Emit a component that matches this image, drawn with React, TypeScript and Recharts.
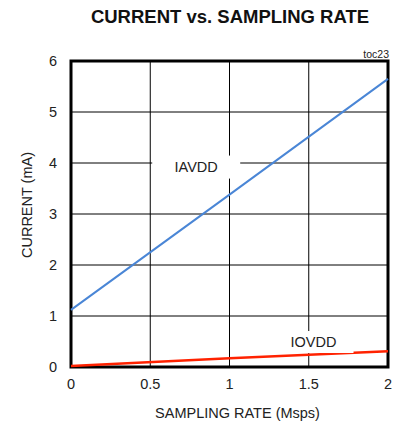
import {
  LineChart,
  Line,
  XAxis,
  YAxis,
  CartesianGrid,
  ReferenceArea,
  ReferenceDot,
  Label,
} from "recharts";

const rates = [0, 1, 2];
const iavdd = [1.12, 3.38, 5.65];
const iovdd = [0.02, 0.17, 0.31];
const xTicks = [0, 0.5, 1, 1.5, 2];
const yTicks = [0, 1, 2, 3, 4, 5, 6];

const data = rates.map((r, i) => ({ rate: r, iavdd: iavdd[i], iovdd: iovdd[i] }));

const FONT = "'Liberation Sans', Arial, sans-serif";

// white box with a series name, drawn at a data point
const makeTag = (text: string, w: number, h: number) => (props: any) => {
  const { cx, cy } = props;
  return (
    <g>
      <rect x={cx - w / 2} y={cy - h / 2} width={w} height={h} fill="#fff" />
      <text
        x={cx}
        y={cy}
        textAnchor="middle"
        dominantBaseline="central"
        fontFamily={FONT}
        fontSize={14.5}
        fill="#222"
      >
        {text}
      </text>
    </g>
  );
};

const YLabel = (props: any) => {
  const vb = props.viewBox || {};
  const x = vb.x + 27;
  const y = vb.y + vb.height / 2 - 9;
  return (
    <text
      x={x}
      y={y}
      transform={`rotate(-90 ${x} ${y})`}
      textAnchor="middle"
      dominantBaseline="central"
      fontFamily={FONT}
      fontSize={14.5}
      fill="#222"
    >
      CURRENT (mA)
    </text>
  );
};

export default function App() {
  return (
    <div style={{ position: "absolute", left: 0, top: 0, width: 396, height: 424, background: "#fff" }}>
      <div
        style={{
          position: "absolute",
          left: 0,
          width: 460,
          top: 6,
          textAlign: "center",
          fontFamily: FONT,
          fontWeight: "bold",
          fontSize: 18.5,
          color: "#111",
        }}
      >
        CURRENT vs. SAMPLING RATE
      </div>
      <div
        style={{
          position: "absolute",
          right: 7,
          top: 48,
          fontFamily: FONT,
          fontSize: 10.5,
          color: "#222",
        }}
      >
        toc23
      </div>
      <LineChart width={396} height={424} data={data} margin={{ top: 61, right: 8, bottom: 0, left: 0 }}>
        <CartesianGrid stroke="#000" strokeWidth={1} />
        <XAxis
          dataKey="rate"
          type="number"
          domain={[0, 2]}
          ticks={xTicks}
          height={57}
          axisLine={false}
          tickLine={false}
          tickSize={0}
          tickMargin={12}
          tick={{ fontSize: 14.5, fill: "#222", fontFamily: FONT }}
        >
          <Label
            value="SAMPLING RATE (Msps)"
            position="insideBottom"
            offset={6}
            dx={8}
            style={{ fontSize: 14.5, fill: "#222", fontFamily: FONT }}
          />
        </XAxis>
        <YAxis
          type="number"
          domain={[0, 6]}
          ticks={yTicks}
          width={71}
          axisLine={false}
          tickLine={false}
          tickSize={0}
          tickMargin={14}
          tick={{ fontSize: 14.5, fill: "#222", fontFamily: FONT }}
        >
          <Label content={YLabel} />
        </YAxis>
        <ReferenceDot x={0.79} y={3.92} r={0} shape={makeTag("IAVDD", 88, 23)} />
        <ReferenceDot x={1.53} y={0.49} r={0} shape={makeTag("IOVDD", 80, 22)} />
        <Line
          dataKey="iavdd"
          type="linear"
          stroke="#4a86d6"
          strokeWidth={2}
          dot={false}
          isAnimationActive={false}
        />
        <Line
          dataKey="iovdd"
          type="linear"
          stroke="#ff2200"
          strokeWidth={2.5}
          dot={false}
          isAnimationActive={false}
        />
        <ReferenceArea x1={0} x2={2} y1={0} y2={6} fill="none" stroke="#000" strokeWidth={3} />
      </LineChart>
    </div>
  );
}
